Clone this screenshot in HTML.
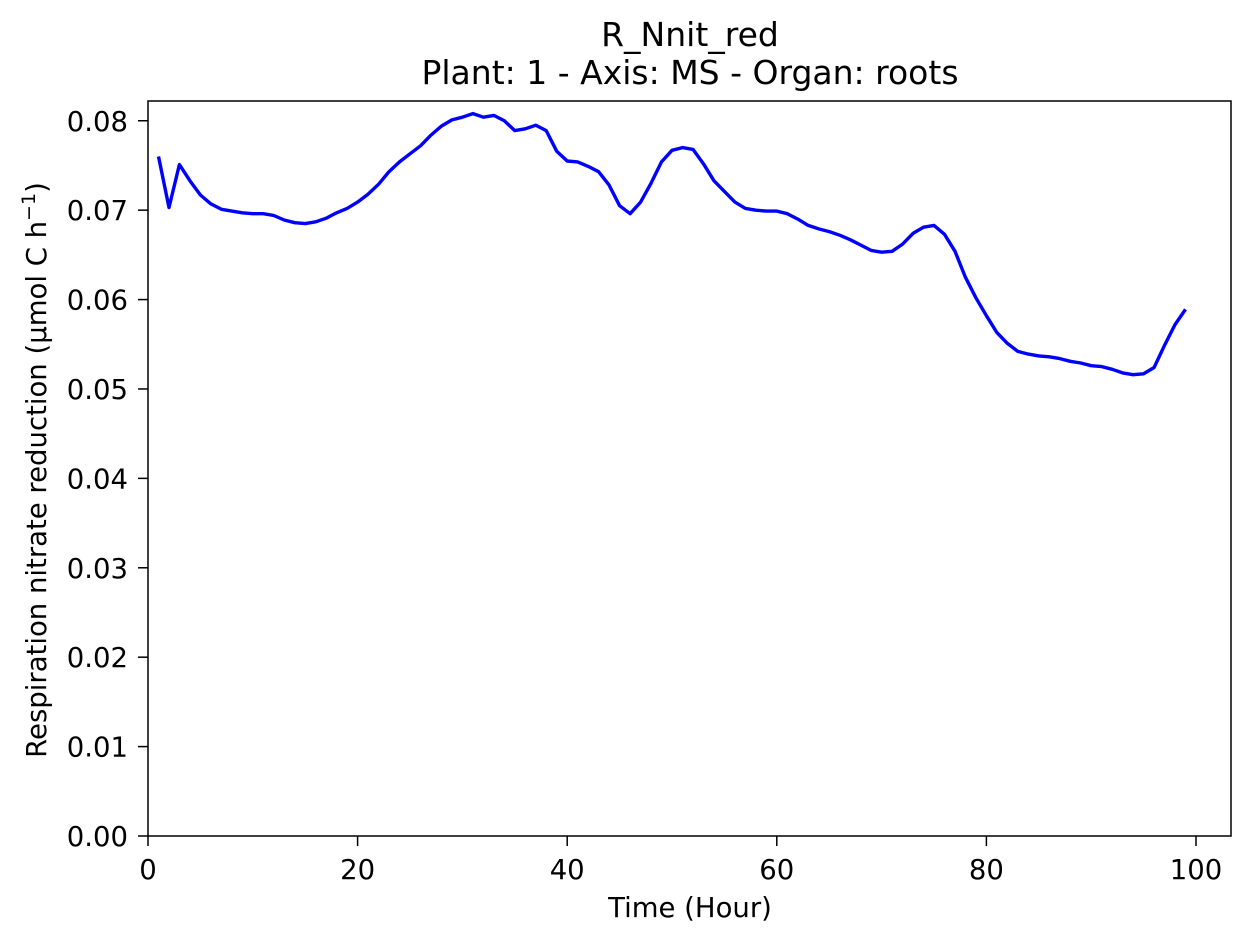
<!DOCTYPE html>
<html><head><meta charset="utf-8"><style>
html,body{margin:0;padding:0;background:#fff;}
svg{display:block;font-family:"DejaVu Sans","Liberation Sans",sans-serif;}
</style></head><body>
<svg id="chart" width="1252" height="943" viewBox="0 0 1252 943">
<text x="690" y="46" font-size="33" text-anchor="middle">R_Nnit_red</text>
<text x="690" y="84" font-size="33" text-anchor="middle">Plant: 1 - Axis: MS - Organ: roots</text>
<g id="xticks"></g><g id="yticks"></g>
<path id="line" fill="none" stroke="#0000ff" stroke-width="3.4" stroke-linejoin="round"></path>
<rect x="148" y="101" width="1083" height="735" fill="none" stroke="#000" stroke-width="1.5"></rect>
<text x="690" y="917" font-size="27.5" text-anchor="middle">Time (Hour)</text>
<text transform="translate(46,470) rotate(-90)" font-size="27.5" text-anchor="middle">Respiration nitrate reduction (µmol C h<tspan dy="-11" font-size="19">−1</tspan><tspan dy="11">)</tspan></text>
</svg>
<script>
const hours = [1,2,3,4,5,6,7,8,9,10,11,12,13,14,15,16,17,18,19,20,21,22,23,24,25,26,27,28,29,30,31,32,33,34,35,36,37,38,39,40,41,42,43,44,45,46,47,48,49,50,51,52,53,54,55,56,57,58,59,60,61,62,63,64,65,66,67,68,69,70,71,72,73,74,75,76,77,78,79,80,81,82,83,84,85,86,87,88,89,90,91,92,93,94,95,96,97,98,99];
const values = [0.0760,0.0703,0.0751,0.0733,0.0717,0.0707,0.0701,0.0699,0.0697,0.0696,0.0696,0.0694,0.0689,0.0686,0.0685,0.0687,0.0691,0.0697,0.0702,0.0709,0.0718,0.0729,0.0743,0.0754,0.0763,0.0772,0.0784,0.0794,0.0801,0.0804,0.0808,0.0804,0.0806,0.0800,0.0789,0.0791,0.0795,0.0789,0.0766,0.0755,0.0754,0.0749,0.0743,0.0728,0.0705,0.0696,0.0709,0.0730,0.0754,0.0767,0.0770,0.0768,0.0752,0.0733,0.0721,0.0709,0.0702,0.0700,0.0699,0.0699,0.0696,0.0690,0.0683,0.0679,0.0676,0.0672,0.0667,0.0661,0.0655,0.0653,0.0654,0.0662,0.0674,0.0681,0.0683,0.0673,0.0654,0.0625,0.0602,0.0582,0.0563,0.0551,0.0542,0.0539,0.0537,0.0536,0.0534,0.0531,0.0529,0.0526,0.0525,0.0522,0.0518,0.0516,0.0517,0.0524,0.0549,0.0572,0.0589];
const xTickLabels = ["0","20","40","60","80","100"];
const yTickLabels = ["0.00","0.01","0.02","0.03","0.04","0.05","0.06","0.07","0.08"];
const NS="http://www.w3.org/2000/svg";
const X0=148,X1=1231,Y0=836,Y1=101,xmin=0,xmax=103.34,ymin=0,ymax=0.08221;
function sx(v){return X0+(v-xmin)/(xmax-xmin)*(X1-X0);}
function sy(v){return Y0-(v-ymin)/(ymax-ymin)*(Y0-Y1);}
const xg=document.getElementById('xticks'),yg=document.getElementById('yticks');
xTickLabels.forEach(t=>{const x=sx(parseFloat(t));
 const l=document.createElementNS(NS,'line');l.setAttribute('x1',x);l.setAttribute('x2',x);l.setAttribute('y1',836);l.setAttribute('y2',846);l.setAttribute('stroke','#000');l.setAttribute('stroke-width','1.5');
 
 
 xg.appendChild(l);
 const tx=document.createElementNS(NS,'text');tx.setAttribute('x',x);tx.setAttribute('y',879);tx.setAttribute('font-size','27.5');tx.setAttribute('text-anchor','middle');tx.textContent=t;
 
 
 xg.appendChild(tx);});
yTickLabels.forEach(t=>{const y=sy(parseFloat(t));
 const l=document.createElementNS(NS,'line');l.setAttribute('x1',138);l.setAttribute('x2',148);l.setAttribute('y1',y);l.setAttribute('y2',y);l.setAttribute('stroke','#000');l.setAttribute('stroke-width','1.5');
 
 
 yg.appendChild(l);
 const tx=document.createElementNS(NS,'text');tx.setAttribute('x',128);tx.setAttribute('y',y+10);tx.setAttribute('font-size','27.5');tx.setAttribute('text-anchor','end');tx.textContent=t;
 
 
 yg.appendChild(tx);});
document.getElementById('line').setAttribute('d',hours.map((h,i)=>(i?'L':'M')+sx(h).toFixed(1)+' '+sy(values[i]).toFixed(1)).join(' '));
</script>
</body></html>
